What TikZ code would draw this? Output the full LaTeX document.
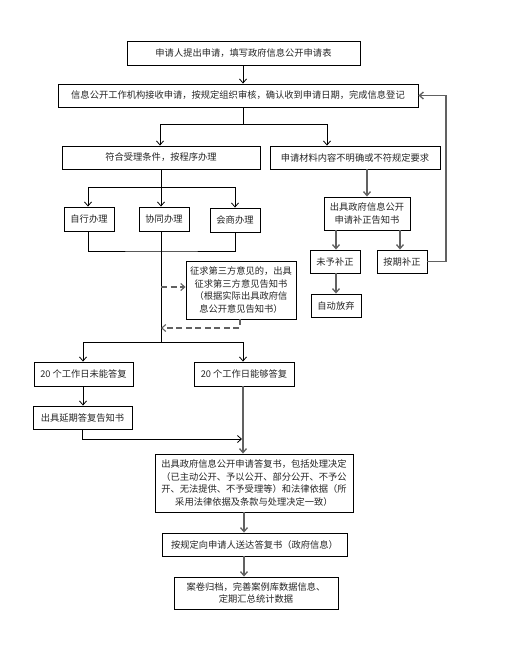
\documentclass[tikz,border=0pt]{standalone}
\usepackage{fontspec}
\setmainfont{Noto Sans CJK SC}
\usetikzlibrary{arrows.meta}
\begin{document}
\begin{tikzpicture}[x=1bp,y=-1bp,
  box/.style={draw=black,line width=0.9bp,inner sep=0pt,align=center,
    font=\fontsize{9.3}{12.7}\selectfont,text=black!85},
  ln/.style={draw=black,line width=0.8bp},
  gl/.style={draw=black!62,line width=1.3bp},
  arr/.style={-{Straight Barb[length=4bp,width=7bp]}},
  dsh/.style={draw=black!62,line width=1.1bp,dash pattern=on 6bp off 3.5bp}
]
\useasboundingbox (0,0) rectangle (510,669);
\fill[white] (0,0) rectangle (510,669);

\node[box,minimum width=233bp,minimum height=24bp] (b1) at (243.5,53) {申请人提出申请，填写政府信息公开申请表};
\node[box,minimum width=360bp,minimum height=23bp] (b2) at (238,95.5) {信息公开工作机构接收申请，按规定组织审核，确认收到申请日期，完成信息登记};
\node[box,minimum width=198bp,minimum height=23bp] (b3) at (161,157.5) {符合受理条件，按程序办理};
\node[box,minimum width=170bp,minimum height=23bp] (b4) at (355,157.5) {申请材料内容不明确或不符规定要求};
\node[box,minimum width=50bp,minimum height=24bp] (zx) at (89,219) {自行办理};
\node[box,minimum width=50bp,minimum height=24bp] (xt) at (164,219) {协同办理};
\node[box,minimum width=50bp,minimum height=24bp] (hs) at (235,220) {会商办理};
\node[box,minimum width=110bp,minimum height=58bp] (zq) at (241,290) {征求第三方意见的，出具\\征求第三方意见告知书\\（根据实际出具政府信\\息公开意见告知书）};
\node[box,minimum width=86bp,minimum height=33bp] (bz) at (367,213.5) {出具政府信息公开\\申请补正告知书};
\node[box,minimum width=50bp,minimum height=23bp] (wy) at (335,261.5) {未予补正};
\node[box,minimum width=50bp,minimum height=23bp] (aq) at (402,261.5) {按期补正};
\node[box,minimum width=50bp,minimum height=23bp] (zd) at (336,305.5) {自动放弃};
\node[box,minimum width=99bp,minimum height=24bp] (wn) at (83.5,374) {20 个工作日未能答复};
\node[box,minimum width=100bp,minimum height=24bp] (ng) at (244,374) {20 个工作日能够答复};
\node[box,minimum width=99bp,minimum height=23bp] (yq) at (82.5,417.5) {出具延期答复告知书};
\node[box,minimum width=198bp,minimum height=58bp] (df) at (254,483) {出具政府信息公开申请答复书，包括处理决定\\（已主动公开、予以公开、部分公开、不予公\\开、无法提供、不予受理等）和法律依据（所\\采用法律依据及条款与处理决定一致）};
\node[box,minimum width=185bp,minimum height=23bp] (sd) at (254.5,544.5) {按规定向申请人送达答复书（政府信息）};
\node[box,minimum width=164bp,minimum height=32bp] (ga) at (256,593) {案卷归档，完善案例库数据信息、\\定期汇总统计数据};

\coordinate (j1) at (243,124);
\coordinate (j2) at (161,187);
\coordinate (j3) at (161,251);
\coordinate (j4) at (161,342);
\coordinate (j5) at (446,261.5);
\coordinate (j6) at (240,328);
\coordinate (j7) at (242,439);

% top section
\draw[ln,arr] (b1.south -| 243,0) -- (b2.north -| 243,0);
\draw[ln] (b2.south -| j1) -- (j1);
\draw[ln,arr] (j1) -| (b3.north -| 160,0);
\draw[ln,arr] (j1) -| (b4.north -| 327,0);

% three ways
\draw[ln,arr] (b3.south -| j2) -- (xt.north -| j2);
\draw[ln,arr] (j2) -| (zx.north -| 88,0);
\draw[ln,arr] (j2) -| (hs.north -| 235,0);
\draw[ln] (zx.south -| 88,0) |- (j3) -| (hs.south -| 235,0);
\draw[ln] (xt.south -| j2) -- (j4);

% third party dashed
\draw[dsh,arr] (161,287) -- (zq.west |- 0,287);
\draw[dsh,arr] (zq.south -| j6) |- (161,328);

% 20 days
\draw[ln,arr] (j4) -| (wn.north -| 83,0);
\draw[ln,arr] (j4) -| (ng.north -| 243,0);
\draw[ln,arr] (wn.south -| 83,0) -- (yq.north -| 83,0);
\draw[ln,arr] (yq.south -| 82,0) |- (j7);
\draw[gl,arr] (ng.south -| 243,0) -- (df.north -| 243,0);
\draw[gl,arr] (df.south -| 244,0) -- (sd.north -| 244,0);
\draw[gl,arr] (sd.south -| 244,0) -- (ga.north -| 244,0);

% right column
\draw[gl,arr] (b4.south -| 367,0) -- (bz.north -| 367,0);
\draw[gl,arr] (bz.south -| 336,0) -- (wy.north -| 336,0);
\draw[gl,arr] (bz.south -| 400,0) -- (aq.north -| 400,0);
\draw[gl,arr] (wy.south -| 336,0) -- (zd.north -| 336,0);
\draw[gl,arr] (aq.east) -- (j5) |- (b2.east);
\end{tikzpicture}
\end{document}
